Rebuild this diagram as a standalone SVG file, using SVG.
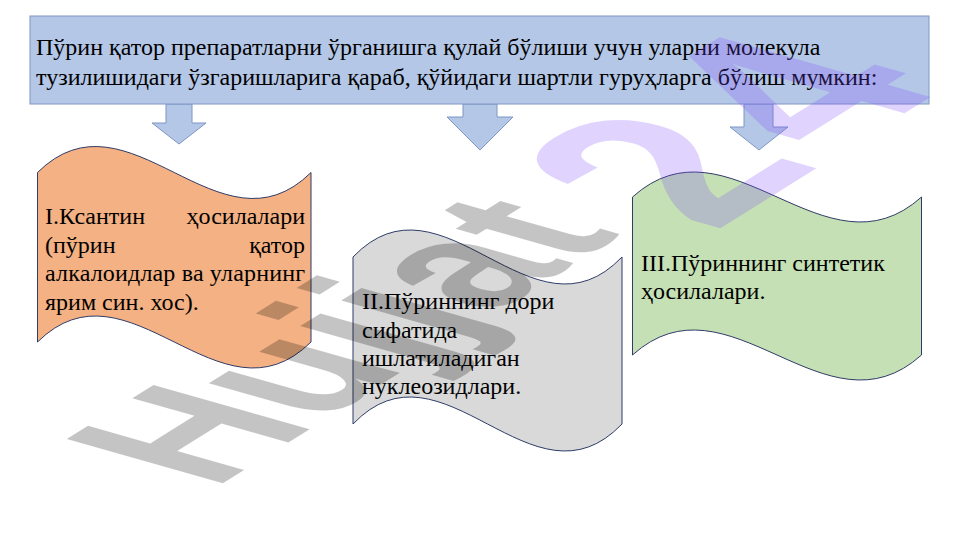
<svg xmlns="http://www.w3.org/2000/svg" width="961" height="540" viewBox="0 0 961 540">
<style>
.t{font-family:"Liberation Serif","Times New Roman",serif;font-size:24px;fill:#000}
.arrow{fill:#b4c7e7;stroke:#7f96c4;stroke-width:1}
.wave{stroke:#2f3b68;stroke-width:1}
.wm{font-family:"Liberation Sans",Arial,sans-serif;font-weight:bold;font-size:100px}
.wm2{font-size:135px;fill:#7c4dff;fill-opacity:0.24}
</style>
<rect width="961" height="540" fill="#fff"/>
<g id="connectors">
<polygon class="arrow" points="166,104 192,104 192,123 206,123 179,144 152,123 166,123"/>
<polygon class="arrow" points="463,104 497,104 497,117 513,117 480,150 447,117 463,117"/>
<polygon class="arrow" points="744,104 773,104 773,127 788,127 759,150 730,127 744,127"/>
</g>
<g id="header">
<rect x="30" y="16" width="899" height="88" fill="#b4c7e7" stroke="#7f96c4" stroke-width="1"/>
<text class="t" x="36" y="55">Пўрин қатор препаратларни ўрганишга қулай бўлиши учун уларни молекула</text>
<text class="t" x="36" y="85">тузилишидаги ўзгаришларига қараб, қўйидаги шартли гуруҳларга бўлиш мумкин:</text>
</g>
<g id="node1">
<path class="wave" fill="#f4b183" d="M37.5,172.5 C128.7,82.5 219.8,262.5 311,172.5 L311,342 C219.8,432 128.7,252 37.5,342 Z"/>
<text class="t" x="45" y="224">I.Ксантин</text>
<text class="t" x="305" y="224" text-anchor="end">ҳосилалари</text>
<text class="t" x="45" y="253">(пўрин</text>
<text class="t" x="305" y="253" text-anchor="end">қатор</text>
<text class="t" x="45" y="281" textLength="260" lengthAdjust="spacing">алкалоидлар ва уларнинг</text>
<text class="t" x="45" y="310">ярим син. хос).</text>
</g>
<g id="node2">
<path class="wave" fill="#d9d9d9" d="M353,257 C442.7,163.5 532.3,350.5 622,257 L622,424 C532.3,517.5 442.7,330.5 353,424 Z"/>
<text class="t" x="362" y="309">II.Пўриннинг дори</text>
<text class="t" x="362" y="338">сифатида</text>
<text class="t" x="362" y="366">ишлатиладиган</text>
<text class="t" x="362" y="394">нуклеозидлари.</text>
</g>
<g id="node3">
<path class="wave" fill="#c5e0b4" d="M632.5,197 C728.8,110.4 825.2,283.6 921.5,197 L921.5,355 C825.2,441.6 728.8,268.4 632.5,355 Z"/>
<text class="t" x="641" y="271">III.Пўриннинг синтетик</text>
<text class="t" x="641" y="299">ҳосилалари.</text>
</g>
<g id="watermark">
<text class="wm" transform="matrix(1.476 -0.922 2.27 0.643 213 489.5)" fill="#000" fill-opacity="0.23">Hujjat <tspan class="wm2" dx="-8" dy="27">2</tspan><tspan class="wm2" dx="10">4</tspan></text>
</g>
</svg>
